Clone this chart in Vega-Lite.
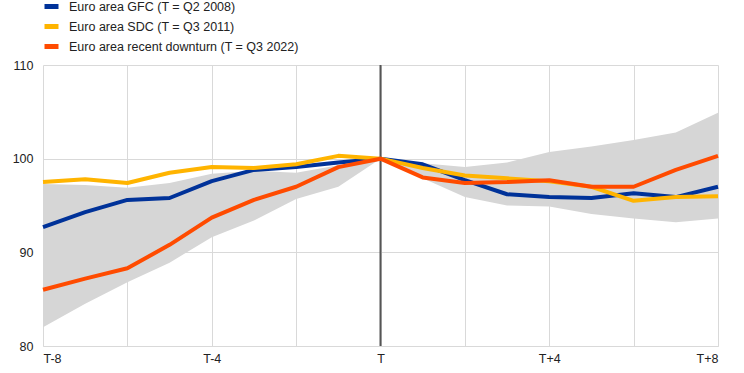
{
  "$schema": "https://vega.github.io/schema/vega-lite/v6.json",
  "autosize": {"type": "none"},
  "width": 675,
  "height": 281,
  "padding": {"left": 43, "top": 65, "right": 26, "bottom": 27},
  "background": "white",
  "config": {
    "view": {"stroke": null},
    "font": "Liberation Sans",
    "axis": {"labelFont": "Liberation Sans", "labelFontSize": 12.5, "labelColor": "#222222", "gridColor": "#d9d9d9", "gridWidth": 1, "ticks": false, "domain": false}
  },
  "datasets": {
    "band": [
      {"q": -8, "lo": 82.0, "hi": 97.3},
      {"q": -7, "lo": 84.5, "hi": 97.2},
      {"q": -6, "lo": 86.8, "hi": 96.9},
      {"q": -5, "lo": 88.9, "hi": 97.4},
      {"q": -4, "lo": 91.6, "hi": 98.4},
      {"q": -3, "lo": 93.4, "hi": 98.7},
      {"q": -2, "lo": 95.7, "hi": 98.5},
      {"q": -1, "lo": 97.0, "hi": 99.3},
      {"q": 0, "lo": 100.0, "hi": 100.0},
      {"q": 1, "lo": 97.9, "hi": 99.5},
      {"q": 2, "lo": 95.9, "hi": 99.1},
      {"q": 3, "lo": 95.0, "hi": 99.6},
      {"q": 4, "lo": 94.9, "hi": 100.7},
      {"q": 5, "lo": 94.1, "hi": 101.3},
      {"q": 6, "lo": 93.6, "hi": 102.0},
      {"q": 7, "lo": 93.2, "hi": 102.8},
      {"q": 8, "lo": 93.6, "hi": 104.9}
    ],
    "lines": [
      {"q": -8, "series": "Euro area GFC (T = Q2 2008)", "value": 92.7},
      {"q": -7, "series": "Euro area GFC (T = Q2 2008)", "value": 94.3},
      {"q": -6, "series": "Euro area GFC (T = Q2 2008)", "value": 95.6},
      {"q": -5, "series": "Euro area GFC (T = Q2 2008)", "value": 95.8},
      {"q": -4, "series": "Euro area GFC (T = Q2 2008)", "value": 97.6},
      {"q": -3, "series": "Euro area GFC (T = Q2 2008)", "value": 98.8},
      {"q": -2, "series": "Euro area GFC (T = Q2 2008)", "value": 99.1},
      {"q": -1, "series": "Euro area GFC (T = Q2 2008)", "value": 99.6},
      {"q": 0, "series": "Euro area GFC (T = Q2 2008)", "value": 100.0},
      {"q": 1, "series": "Euro area GFC (T = Q2 2008)", "value": 99.4},
      {"q": 2, "series": "Euro area GFC (T = Q2 2008)", "value": 97.7},
      {"q": 3, "series": "Euro area GFC (T = Q2 2008)", "value": 96.2},
      {"q": 4, "series": "Euro area GFC (T = Q2 2008)", "value": 95.9},
      {"q": 5, "series": "Euro area GFC (T = Q2 2008)", "value": 95.8},
      {"q": 6, "series": "Euro area GFC (T = Q2 2008)", "value": 96.3},
      {"q": 7, "series": "Euro area GFC (T = Q2 2008)", "value": 95.9},
      {"q": 8, "series": "Euro area GFC (T = Q2 2008)", "value": 97.0},
      {"q": -8, "series": "Euro area SDC (T = Q3 2011)", "value": 97.5},
      {"q": -7, "series": "Euro area SDC (T = Q3 2011)", "value": 97.8},
      {"q": -6, "series": "Euro area SDC (T = Q3 2011)", "value": 97.4},
      {"q": -5, "series": "Euro area SDC (T = Q3 2011)", "value": 98.5},
      {"q": -4, "series": "Euro area SDC (T = Q3 2011)", "value": 99.1},
      {"q": -3, "series": "Euro area SDC (T = Q3 2011)", "value": 99.0},
      {"q": -2, "series": "Euro area SDC (T = Q3 2011)", "value": 99.4},
      {"q": -1, "series": "Euro area SDC (T = Q3 2011)", "value": 100.3},
      {"q": 0, "series": "Euro area SDC (T = Q3 2011)", "value": 100.0},
      {"q": 1, "series": "Euro area SDC (T = Q3 2011)", "value": 99.0},
      {"q": 2, "series": "Euro area SDC (T = Q3 2011)", "value": 98.2},
      {"q": 3, "series": "Euro area SDC (T = Q3 2011)", "value": 97.9},
      {"q": 4, "series": "Euro area SDC (T = Q3 2011)", "value": 97.6},
      {"q": 5, "series": "Euro area SDC (T = Q3 2011)", "value": 97.0},
      {"q": 6, "series": "Euro area SDC (T = Q3 2011)", "value": 95.5},
      {"q": 7, "series": "Euro area SDC (T = Q3 2011)", "value": 95.9},
      {"q": 8, "series": "Euro area SDC (T = Q3 2011)", "value": 96.0},
      {"q": -8, "series": "Euro area recent downturn (T = Q3 2022)", "value": 86.0},
      {"q": -7, "series": "Euro area recent downturn (T = Q3 2022)", "value": 87.2},
      {"q": -6, "series": "Euro area recent downturn (T = Q3 2022)", "value": 88.3},
      {"q": -5, "series": "Euro area recent downturn (T = Q3 2022)", "value": 90.8},
      {"q": -4, "series": "Euro area recent downturn (T = Q3 2022)", "value": 93.7},
      {"q": -3, "series": "Euro area recent downturn (T = Q3 2022)", "value": 95.6},
      {"q": -2, "series": "Euro area recent downturn (T = Q3 2022)", "value": 97.0},
      {"q": -1, "series": "Euro area recent downturn (T = Q3 2022)", "value": 99.1},
      {"q": 0, "series": "Euro area recent downturn (T = Q3 2022)", "value": 100.0},
      {"q": 1, "series": "Euro area recent downturn (T = Q3 2022)", "value": 98.0},
      {"q": 2, "series": "Euro area recent downturn (T = Q3 2022)", "value": 97.4},
      {"q": 3, "series": "Euro area recent downturn (T = Q3 2022)", "value": 97.5},
      {"q": 4, "series": "Euro area recent downturn (T = Q3 2022)", "value": 97.7},
      {"q": 5, "series": "Euro area recent downturn (T = Q3 2022)", "value": 97.0},
      {"q": 6, "series": "Euro area recent downturn (T = Q3 2022)", "value": 97.0},
      {"q": 7, "series": "Euro area recent downturn (T = Q3 2022)", "value": 98.8},
      {"q": 8, "series": "Euro area recent downturn (T = Q3 2022)", "value": 100.3}
    ],
    "vline": [{"q": 0}]
  },
  "layer": [
    {
      "data": {"name": "band"},
      "mark": {"type": "area", "color": "#d6d6d6", "opacity": 1},
      "encoding": {
        "x": {"field": "q", "type": "quantitative", "scale": {"domain": [-8, 8], "nice": false, "zero": false},
              "axis": {"title": null, "values": [-8, -6, -4, -2, 0, 2, 4, 6, 8], "grid": true, "domain": true, "domainColor": "#d9d9d9", "domainWidth": 1, "labelPadding": 6,
                       "labelExpr": "datum.value % 4 != 0 ? '' : (datum.value == 0 ? 'T' : (datum.value > 0 ? 'T+' + datum.value : 'T' + datum.value))"}},
        "y": {"field": "lo", "type": "quantitative", "scale": {"domain": [80, 110], "nice": false, "zero": false},
              "axis": {"title": null, "values": [80, 90, 100, 110], "grid": true, "labelPadding": 10}},
        "y2": {"field": "hi"}
      }
    },
    {
      "data": {"name": "vline"},
      "mark": {"type": "rule", "color": "#555555", "strokeWidth": 2},
      "encoding": {"x": {"field": "q", "type": "quantitative"}}
    },
    {
      "data": {"name": "lines"},
      "mark": {"type": "line", "strokeWidth": 4, "strokeJoin": "round"},
      "encoding": {
        "x": {"field": "q", "type": "quantitative"},
        "y": {"field": "value", "type": "quantitative"},
        "color": {"field": "series", "type": "nominal",
          "scale": {"domain": ["Euro area GFC (T = Q2 2008)", "Euro area SDC (T = Q3 2011)", "Euro area recent downturn (T = Q3 2022)"], "range": ["#003299", "#ffb400", "#ff4b00"]},
          "legend": {"title": null, "orient": "none", "legendX": -1, "legendY": -68, "labelFontSize": 12.5, "labelFont": "Liberation Sans", "labelColor": "#222222",
            "symbolType": "stroke", "symbolSize": 196, "symbolStrokeWidth": 5, "rowPadding": -4, "labelOffset": 8, "labelLimit": 400}},
        "order": {"field": "q", "type": "quantitative"}
      }
    }
  ]
}
